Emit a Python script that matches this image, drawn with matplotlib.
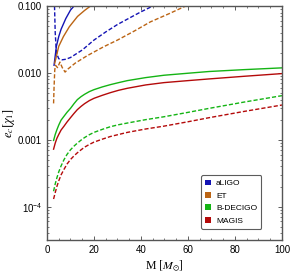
import numpy as np
import matplotlib.pyplot as plt
from matplotlib.patches import Patch
from matplotlib.ticker import FixedLocator, NullFormatter

plt.rcParams["mathtext.fontset"] = "stix"
plt.rcParams["font.family"] = ["Liberation Sans", "DejaVu Sans"]

# eccentricity bounds e_c[chi_1] vs total mass M
M_ligo = [3.0, 4.0, 5.0, 6.0, 8.0, 10.0, 11.5]
e_ligo = [0.013, 0.025, 0.035, 0.045, 0.065, 0.087, 0.1]
M_ligo_d = [3.2, 3.5, 4.0, 5.0, 6.4, 8.0, 10.0, 15.0, 20.0, 25.0, 30.0, 35.0, 40.0, 45.0]
e_ligo_d = [0.1, 0.04, 0.02, 0.0163, 0.0157, 0.016, 0.017, 0.022, 0.031, 0.041, 0.053, 0.066, 0.082, 0.1]

M_et = [3.3, 5.0, 7.0, 9.5, 13.0, 16.0, 18.5]
e_et = [0.014, 0.025, 0.035, 0.049, 0.07, 0.086, 0.1]
M_et_d = [2.8, 3.0, 3.3, 3.6, 4.5, 5.5, 6.5, 7.7, 9.0, 12.0, 17.0, 24.0, 30.0, 37.0, 44.0, 52.0, 59.0]
e_et_d = [0.0035, 0.006, 0.011, 0.013, 0.012, 0.0145, 0.012, 0.0103, 0.0115, 0.014, 0.018, 0.0245, 0.031, 0.042, 0.058, 0.077, 0.1]

M_grid = [2.8, 3.5, 4.2, 5.0, 6.0, 7.2, 8.5, 10.0, 11.5, 12.9, 14.5, 16.0,
          18.0, 20.0, 23.5, 27.0, 30.5, 34.2, 42.0, 49.8, 60.0, 69.0, 84.0, 100.0]
e_dec = [0.000977, 0.00120, 0.00141, 0.00166, 0.00197, 0.00224, 0.00257, 0.00295,
         0.00347, 0.00398, 0.00442, 0.00479, 0.00525, 0.00562, 0.00617, 0.00668,
         0.00716, 0.00767, 0.00851, 0.00923, 0.00989, 0.0105, 0.0112, 0.0119]
e_dec_d = [0.000170, 0.000219, 0.000269, 0.000331, 0.000407, 0.000501, 0.000603, 0.000708,
           0.000804, 0.000891, 0.000989, 0.00108, 0.00119, 0.00129, 0.00143, 0.00157,
           0.00168, 0.00178, 0.00200, 0.00221, 0.00257, 0.00295, 0.00367, 0.00457]
e_mag = [0.000724, 0.000891, 0.00105, 0.00120, 0.00140, 0.00159, 0.00184, 0.00214,
         0.00248, 0.00282, 0.00316, 0.00347, 0.00385, 0.00417, 0.00462, 0.00507,
         0.00550, 0.00589, 0.00661, 0.00716, 0.00767, 0.00813, 0.00891, 0.00977]
e_mag_d = [0.000130, 0.000162, 0.000200, 0.000243, 0.000299, 0.000359, 0.000432, 0.000507,
           0.000575, 0.000638, 0.000708, 0.000776, 0.000851, 0.000923, 0.00102, 0.00112,
           0.00120, 0.00129, 0.00145, 0.00160, 0.00186, 0.00214, 0.00266, 0.00331]

names = ["aLIGO", "ET", "B-DECIGO", "MAGIS"]
colors = ["#1414b4", "#bb6414", "#14b414", "#b40a0a"]

fig = plt.figure(figsize=(2.91, 2.75), dpi=100)
ax = fig.add_axes([0.1615, 0.127, 0.8075, 0.851])

lw = 1.0
dash = (0, (3, 1.5))
ax.plot(M_ligo, e_ligo, color=colors[0], lw=lw)
ax.plot(M_ligo_d, e_ligo_d, color=colors[0], lw=lw, ls=dash)
ax.plot(M_et, e_et, color=colors[1], lw=lw)
ax.plot(M_et_d, e_et_d, color=colors[1], lw=lw, ls=dash)
ax.plot(M_grid, e_dec, color=colors[2], lw=lw)
ax.plot(M_grid, e_dec_d, color=colors[2], lw=lw, ls=dash)
ax.plot(M_grid, e_mag, color=colors[3], lw=lw)
ax.plot(M_grid, e_mag_d, color=colors[3], lw=lw, ls=dash)

ax.set_yscale("log")
ax.set_xlim(0, 100)
ax.set_ylim(10**-4.5, 0.1)
ax.set_xticks([0, 20, 40, 60, 80, 100])
ax.xaxis.set_minor_locator(FixedLocator(np.arange(0, 101, 5)))
ax.set_yticks([1e-4, 1e-3, 1e-2, 1e-1])
ax.set_yticklabels(["$\\mathregular{10^{-4}}$", "0.001", "0.010", "0.100"])
minor = [k * 10.0**p for p in range(-5, -1) for k in range(2, 10)]
ax.yaxis.set_minor_locator(FixedLocator(minor))
ax.yaxis.set_minor_formatter(NullFormatter())
ax.tick_params(which="both", direction="in", top=True, right=True, labelsize=7, colors="#444444", labelcolor="black")
ax.tick_params(which="major", length=3, width=0.6)
ax.tick_params(which="minor", length=1.6, width=0.5)
for s in ax.spines.values():
    s.set_color("#555555")
    s.set_linewidth(1.0)

ax.set_xlabel(r"M $[M_{\odot}]$", fontsize=8.5, family="Liberation Serif", labelpad=3)
ax.set_ylabel(r"$e_c[\chi_1]$", fontsize=9, labelpad=1)

handles = [Patch(facecolor=c, edgecolor="none") for c in colors]
leg = ax.legend(handles, names, loc="lower right", bbox_to_anchor=(0.93, 0.03), fontsize=6,
                handlelength=0.7, handleheight=0.7, handletextpad=0.6, labelspacing=0.55,
                borderpad=0.5, frameon=True, fancybox=True)
leg.get_frame().set_edgecolor("#333333")
leg.get_frame().set_linewidth(0.8)

fig.savefig("out.png", dpi=100)
